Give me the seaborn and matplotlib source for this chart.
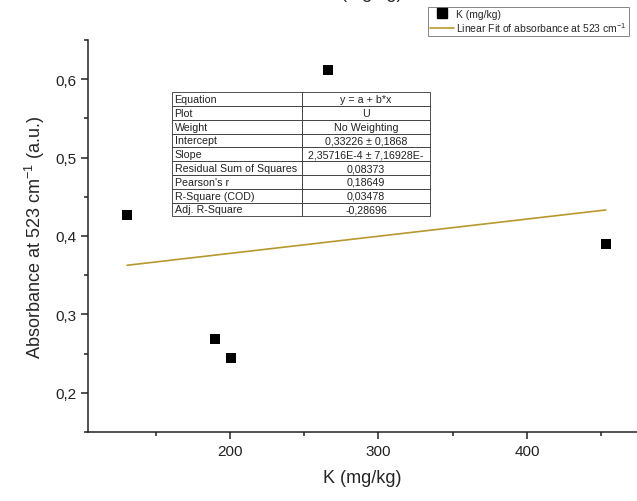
import numpy as np
import pandas as pd
import seaborn as sns
import matplotlib.pyplot as plt
from matplotlib.ticker import FuncFormatter, MultipleLocator
from matplotlib.lines import Line2D

# values
k_mgkg = [130.8, 189.9, 200.5, 266.2, 453.0]
absorbance = [0.4267, 0.2692, 0.2446, 0.6119, 0.3893]

fit_rows = ['Equation', 'Plot', 'Weight', 'Intercept', 'Slope',
            'Residual Sum of Squares', "Pearson's r", 'R-Square (COD)',
            'Adj. R-Square']
fit_values = ['y = a + b*x', 'U', 'No Weighting', '0,33226 \u00b1 0,1868',
              '2,35716E-4 \u00b1 7,16928E-', '0,08373', '0,18649', '0,03478',
              '-0,28696']

fit_color = '#B8982C'

sns.set_style('ticks')
plt.rcParams['font.family'] = ['Liberation Sans', 'DejaVu Sans']
plt.rcParams['mathtext.fontset'] = 'custom'
plt.rcParams['mathtext.rm'] = 'Liberation Sans'
plt.rcParams['mathtext.it'] = 'Liberation Sans'
plt.rcParams['mathtext.default'] = 'regular'

df = pd.DataFrame({'K': k_mgkg, 'A': absorbance})

fig = plt.figure(figsize=(6.37, 5.02), dpi=100)
W, H = 637, 502
x0, x1, ytop, ybot = 88, 637, 41, 433
ax = fig.add_axes([x0 / W, (H - ybot) / H, (x1 - x0) / W, (ybot - ytop) / H])

sns.regplot(data=df, x='K', y='A', scatter=False, ci=None, ax=ax,
            color=fit_color, line_kws={'linewidth': 1.2})
sns.scatterplot(data=df, x='K', y='A', marker='s', color='black', s=42,
                linewidth=0, ax=ax, zorder=5)

ax.set_xlim(104.5, 474)
ax.set_ylim(0.15, 0.65)
ax.xaxis.set_major_locator(MultipleLocator(100))
ax.xaxis.set_minor_locator(MultipleLocator(50))
ax.yaxis.set_major_locator(MultipleLocator(0.1))
ax.yaxis.set_minor_locator(MultipleLocator(0.05))
ax.yaxis.set_major_formatter(FuncFormatter(lambda v, p: f'{v:.1f}'.replace('.', ',')))
ax.tick_params(which='major', length=5, width=1.1, labelsize=11, colors='#222222',
               labelcolor='#222222')
ax.tick_params(which='minor', length=3, width=1.1, colors='#222222')
for side in ['top', 'right']:
    ax.spines[side].set_visible(False)
for side in ['left', 'bottom']:
    ax.spines[side].set_linewidth(1.1)
    ax.spines[side].set_color('#222222')
ax.set_xlabel('K (mg/kg)', fontsize=13, labelpad=8)
ax.set_ylabel('Absorbance at 523 cm$^{-1}$ (a.u.)', fontsize=13, labelpad=6)

tbl = ax.table(cellText=[[r, v] for r, v in zip(fit_rows, fit_values)],
               colWidths=[0.237, 0.233], bbox=[0.153, 0.550, 0.470, 0.317],
               cellLoc='left')
tbl.auto_set_font_size(False)
tbl.set_fontsize(7.7)
for (r, c), cell in tbl.get_celld().items():
    cell.set_linewidth(0.6)
    cell.set_edgecolor('#333333')
    cell.PAD = 0.02
    cell.get_text().set_color('#222222')
    if c == 1:
        cell.get_text().set_ha('center')
        cell._loc = 'center'
tbl.set_zorder(6)

handles = [Line2D([], [], marker='s', color='black', linestyle='none', markersize=6.5),
           Line2D([], [], color=fit_color, linewidth=1.2)]
leg = fig.legend(handles, ['K (mg/kg)', 'Linear Fit of absorbance at 523 cm$^{-1}$'],
                 loc='upper left', bbox_to_anchor=(428 / W, 1 - 8 / H),
                 fontsize=7.5, frameon=True, fancybox=False, handlelength=2.3,
                 borderpad=0.2, labelspacing=0.1, handletextpad=0.2,
                 borderaxespad=0)
leg.get_frame().set_edgecolor('#666666')
leg.get_frame().set_linewidth(0.7)

# title cut off at the top of the picture
fig.text(403 / W, 1 + 2 / H, 'K (mg/kg)', ha='right', va='baseline', fontsize=13)

fig.savefig('out.png', dpi=100)
